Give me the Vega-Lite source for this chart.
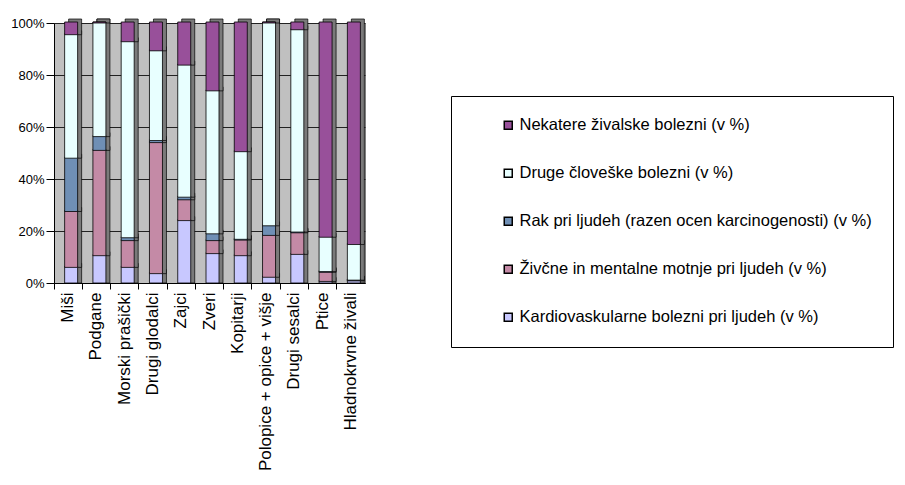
{
  "$schema": "https://vega.github.io/schema/vega-lite/v6.json",
  "autosize": "none",
  "width": 311,
  "height": 260,
  "padding": {"left": 54, "top": 23, "right": 540, "bottom": 202},
  "background": "white",
  "config": {
    "font": "Liberation Sans",
    "view": {"fill": "#C0C0C0", "stroke": "#808080"}
  },
  "data": {"values": [
    {"animal": "Miši", "series": "Kardiovaskularne bolezni pri ljudeh (v %)", "value": 6},
    {"animal": "Miši", "series": "Živčne in mentalne motnje pri ljudeh (v %)", "value": 21.5},
    {"animal": "Miši", "series": "Rak pri ljudeh (razen ocen karcinogenosti) (v %)", "value": 20.5},
    {"animal": "Miši", "series": "Druge človeške bolezni (v %)", "value": 47.5},
    {"animal": "Miši", "series": "Nekatere živalske bolezni (v %)", "value": 4.5},
    {"animal": "Podgane", "series": "Kardiovaskularne bolezni pri ljudeh (v %)", "value": 10.5},
    {"animal": "Podgane", "series": "Živčne in mentalne motnje pri ljudeh (v %)", "value": 40.5},
    {"animal": "Podgane", "series": "Rak pri ljudeh (razen ocen karcinogenosti) (v %)", "value": 5.3},
    {"animal": "Podgane", "series": "Druge človeške bolezni (v %)", "value": 43.7},
    {"animal": "Podgane", "series": "Nekatere živalske bolezni (v %)", "value": 0},
    {"animal": "Morski prašički", "series": "Kardiovaskularne bolezni pri ljudeh (v %)", "value": 6},
    {"animal": "Morski prašički", "series": "Živčne in mentalne motnje pri ljudeh (v %)", "value": 10.3},
    {"animal": "Morski prašički", "series": "Rak pri ljudeh (razen ocen karcinogenosti) (v %)", "value": 1.1},
    {"animal": "Morski prašički", "series": "Druge človeške bolezni (v %)", "value": 75.4},
    {"animal": "Morski prašički", "series": "Nekatere živalske bolezni (v %)", "value": 7.2},
    {"animal": "Drugi glodalci", "series": "Kardiovaskularne bolezni pri ljudeh (v %)", "value": 3.6},
    {"animal": "Drugi glodalci", "series": "Živčne in mentalne motnje pri ljudeh (v %)", "value": 50.4},
    {"animal": "Drugi glodalci", "series": "Rak pri ljudeh (razen ocen karcinogenosti) (v %)", "value": 0.8},
    {"animal": "Drugi glodalci", "series": "Druge človeške bolezni (v %)", "value": 34.5},
    {"animal": "Drugi glodalci", "series": "Nekatere živalske bolezni (v %)", "value": 10.7},
    {"animal": "Zajci", "series": "Kardiovaskularne bolezni pri ljudeh (v %)", "value": 24},
    {"animal": "Zajci", "series": "Živčne in mentalne motnje pri ljudeh (v %)", "value": 8},
    {"animal": "Zajci", "series": "Rak pri ljudeh (razen ocen karcinogenosti) (v %)", "value": 1},
    {"animal": "Zajci", "series": "Druge človeške bolezni (v %)", "value": 50.8},
    {"animal": "Zajci", "series": "Nekatere živalske bolezni (v %)", "value": 16.2},
    {"animal": "Zveri", "series": "Kardiovaskularne bolezni pri ljudeh (v %)", "value": 11.3},
    {"animal": "Zveri", "series": "Živčne in mentalne motnje pri ljudeh (v %)", "value": 5},
    {"animal": "Zveri", "series": "Rak pri ljudeh (razen ocen karcinogenosti) (v %)", "value": 2.6},
    {"animal": "Zveri", "series": "Druge človeške bolezni (v %)", "value": 55},
    {"animal": "Zveri", "series": "Nekatere živalske bolezni (v %)", "value": 26.1},
    {"animal": "Kopitarji", "series": "Kardiovaskularne bolezni pri ljudeh (v %)", "value": 10.5},
    {"animal": "Kopitarji", "series": "Živčne in mentalne motnje pri ljudeh (v %)", "value": 6},
    {"animal": "Kopitarji", "series": "Rak pri ljudeh (razen ocen karcinogenosti) (v %)", "value": 0.3},
    {"animal": "Kopitarji", "series": "Druge človeške bolezni (v %)", "value": 33.7},
    {"animal": "Kopitarji", "series": "Nekatere živalske bolezni (v %)", "value": 49.5},
    {"animal": "Polopice + opice + višje", "series": "Kardiovaskularne bolezni pri ljudeh (v %)", "value": 2.2},
    {"animal": "Polopice + opice + višje", "series": "Živčne in mentalne motnje pri ljudeh (v %)", "value": 16.1},
    {"animal": "Polopice + opice + višje", "series": "Rak pri ljudeh (razen ocen karcinogenosti) (v %)", "value": 3.7},
    {"animal": "Polopice + opice + višje", "series": "Druge človeške bolezni (v %)", "value": 78},
    {"animal": "Polopice + opice + višje", "series": "Nekatere živalske bolezni (v %)", "value": 0},
    {"animal": "Drugi sesalci", "series": "Kardiovaskularne bolezni pri ljudeh (v %)", "value": 11},
    {"animal": "Drugi sesalci", "series": "Živčne in mentalne motnje pri ljudeh (v %)", "value": 8.3},
    {"animal": "Drugi sesalci", "series": "Rak pri ljudeh (razen ocen karcinogenosti) (v %)", "value": 0.3},
    {"animal": "Drugi sesalci", "series": "Druge človeške bolezni (v %)", "value": 77.8},
    {"animal": "Drugi sesalci", "series": "Nekatere živalske bolezni (v %)", "value": 2.6},
    {"animal": "Ptice", "series": "Kardiovaskularne bolezni pri ljudeh (v %)", "value": 0.6},
    {"animal": "Ptice", "series": "Živčne in mentalne motnje pri ljudeh (v %)", "value": 3.5},
    {"animal": "Ptice", "series": "Rak pri ljudeh (razen ocen karcinogenosti) (v %)", "value": 0.3},
    {"animal": "Ptice", "series": "Druge človeške bolezni (v %)", "value": 13.2},
    {"animal": "Ptice", "series": "Nekatere živalske bolezni (v %)", "value": 82.4},
    {"animal": "Hladnokrvne živali", "series": "Kardiovaskularne bolezni pri ljudeh (v %)", "value": 0.8},
    {"animal": "Hladnokrvne živali", "series": "Živčne in mentalne motnje pri ljudeh (v %)", "value": 0.2},
    {"animal": "Hladnokrvne živali", "series": "Rak pri ljudeh (razen ocen karcinogenosti) (v %)", "value": 0.1},
    {"animal": "Hladnokrvne živali", "series": "Druge človeške bolezni (v %)", "value": 13.7},
    {"animal": "Hladnokrvne živali", "series": "Nekatere živalske bolezni (v %)", "value": 85.2}
  ]},
  "transform": [
    {"calculate": "indexof(['Kardiovaskularne bolezni pri ljudeh (v %)','Živčne in mentalne motnje pri ljudeh (v %)','Rak pri ljudeh (razen ocen karcinogenosti) (v %)','Druge človeške bolezni (v %)','Nekatere živalske bolezni (v %)'], datum.series)", "as": "ord"},
    {"stack": "value", "groupby": ["animal"], "sort": [{"field": "ord", "order": "ascending"}], "offset": "normalize", "as": ["v0", "v1"]}
  ],
  "encoding": {
    "x": {
      "field": "animal", "type": "nominal", "sort": null,
      "scale": {"paddingInner": 0, "paddingOuter": 0},
      "axis": {
        "title": null, "labelAngle": -90, "labelAlign": "right", "labelBaseline": "middle",
        "labelFontSize": 17, "labelColor": "black", "labelPadding": 3,
        "bandPosition": 0, "tickSize": 6, "tickColor": "black", "domainColor": "black",
        "labelLimit": 300, "labelOverlap": false
      }
    },
    "y": {
      "field": "v1", "type": "quantitative",
      "scale": {"domain": [0, 1], "nice": false},
      "axis": {
        "title": null, "format": ".0%", "values": [0, 0.2, 0.4, 0.6, 0.8, 1],
        "labelFontSize": 13, "labelColor": "black", "tickSize": 8, "labelPadding": 2,
        "tickColor": "black", "domainColor": "black", "gridColor": "#222"
      }
    },
    "y2": {"field": "v0"}
  },
  "layer": [
    {
      "mark": {"type": "bar", "width": 13, "fill": "#7a7a7a", "stroke": "black", "strokeWidth": 0.7, "xOffset": 7, "yOffset": -4}
    },
    {
      "mark": {"type": "bar", "width": 13, "stroke": "black", "strokeWidth": 0.8, "xOffset": 3, "yOffset": -1},
      "encoding": {
        "color": {
          "field": "series", "type": "nominal",
          "scale": {
            "domain": ["Nekatere živalske bolezni (v %)", "Druge človeške bolezni (v %)", "Rak pri ljudeh (razen ocen karcinogenosti) (v %)", "Živčne in mentalne motnje pri ljudeh (v %)", "Kardiovaskularne bolezni pri ljudeh (v %)"],
            "range": ["#98509a", "#e8ffff", "#6f8fb5", "#c48aa6", "#c8c8ff"]
          },
          "legend": {
            "orient": "none", "legendX": 397, "legendY": 73, "title": null,
            "strokeColor": "black", "fillColor": "white",
            "padding": 21, "symbolOffset": 28, "rowPadding": 31,
            "symbolType": "square", "symbolSize": 64, "symbolStrokeColor": "black",
            "labelFontSize": 16.5, "labelColor": "black", "labelLimit": 700, "labelOffset": 3
          }
        }
      }
    }
  ]
}
